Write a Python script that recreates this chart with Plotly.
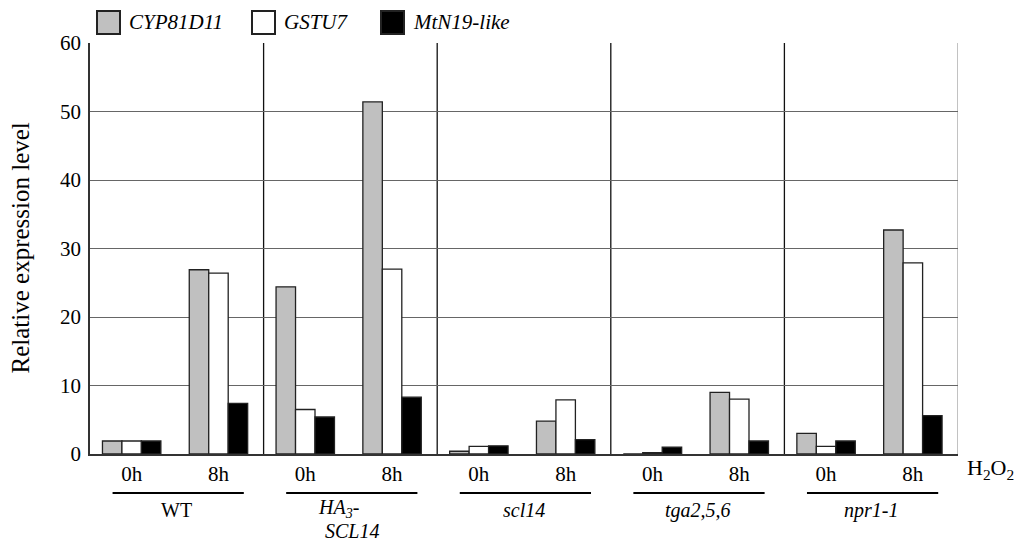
import plotly.graph_objects as go

# Genotypes (panels) and H2O2 time points within each panel
genotypes = ["WT", "HA3-SCL14", "scl14", "tga2,5,6", "npr1-1"]
timepoints = ["0h", "8h"]

# Relative expression levels, ordered WT 0h, WT 8h, HA 0h, HA 8h, ...
cyp81d11 = [1.9, 26.9, 24.4, 51.4, 0.4, 4.8, 0.0, 9.0, 3.0, 32.7]
gstu7 = [1.9, 26.4, 6.5, 27.0, 1.1, 7.9, 0.2, 8.0, 1.1, 27.9]
mtn19_like = [1.9, 7.4, 5.4, 8.3, 1.2, 2.1, 1.0, 1.9, 1.9, 5.6]

series_names = ["CYP81D11", "GSTU7", "MtN19-like"]
series_values = [cyp81d11, gstu7, mtn19_like]
series_fill = ["#c0c0c0", "#ffffff", "#000000"]

y_ticks = [0, 10, 20, 30, 40, 50, 60]

# Position of each time point inside a genotype panel (panel i spans [i, i+1])
tp_offset = [0.24, 0.74]
x_pos = [g + off for g in range(len(genotypes)) for off in tp_offset]
x_text = [tp for _ in genotypes for tp in timepoints]

FONT = "Liberation Serif"

# Plot area in pixels, used to place decorations outside the axes
L, R, T, B = 90, 958, 43, 454
W, H = 1018, 542


def px(x):
    return (x - L) / (R - L)


def py(y):
    return (B - y) / (B - T)


def label(x, y, text, xref="paper", xanchor="center", size=20, angle=0):
    return dict(x=x, y=y, xref=xref, yref="paper", text=text, showarrow=False,
                xanchor=xanchor, yanchor="middle", textangle=angle,
                font=dict(family=FONT, size=size, color="#000"))


fig = go.Figure()
for name, vals, fill in zip(series_names, series_values, series_fill):
    fig.add_trace(go.Bar(
        x=x_pos, y=vals, name=name,
        marker=dict(color=fill, line=dict(color="#222222", width=1.3)),
        showlegend=False,
    ))

shapes = []
# vertical separators between genotype panels
for i in range(1, len(genotypes)):
    shapes.append(dict(type="line", xref="x", yref="paper", x0=i, x1=i, y0=0, y1=1,
                       line=dict(color="#111111", width=1.3), layer="below"))
# right border of the plot
shapes.append(dict(type="line", xref="x", yref="paper", x0=len(genotypes), x1=len(genotypes),
                   y0=0, y1=1, line=dict(color="#999999", width=1.2), layer="below"))
# underlines grouping the two time points of a genotype
for i in range(len(genotypes)):
    shapes.append(dict(type="line", xref="x", yref="paper", x0=i + 0.13, x1=i + 0.886,
                       y0=py(493), y1=py(493), line=dict(color="#000000", width=2)))

annotations = []
# genotype labels
for i, g in enumerate(genotypes):
    if g == "WT":
        annotations.append(label(i + 0.5, py(510), "WT", xref="x"))
    elif g == "HA3-SCL14":
        annotations.append(label(px(338), py(508), "<i>HA<sub>3</sub>-</i>"))
        annotations.append(label(px(352), py(531), "<i>SCL14</i>"))
    else:
        annotations.append(label(i + 0.5, py(510), f"<i>{g}</i>", xref="x"))

annotations.append(label(px(965), py(469), "H<sub>2</sub>O<sub>2</sub>", xanchor="left", size=22))
annotations.append(label(px(20), 0.5, "Relative expression level", size=25, angle=-90))

# legend: swatches and italic gene names
legend_items = [(97, 127), (252, 282), (381, 411)]
for (sx, tx), name, fill in zip(legend_items, series_names, series_fill):
    shapes.append(dict(type="rect", xref="paper", yref="paper",
                       x0=px(sx), x1=px(sx + 23), y0=py(34), y1=py(11),
                       fillcolor=fill, line=dict(color="#222222", width=2)))
    annotations.append(label(px(tx), py(22), f"<i>{name}</i>", xanchor="left", size=21))

fig.update_layout(
    width=W, height=H,
    margin=dict(l=L, r=W - R, t=T, b=H - B),
    paper_bgcolor="white", plot_bgcolor="white",
    barmode="group", bargap=0.327, bargroupgap=0,
    font=dict(family=FONT, size=20, color="#000"),
    shapes=shapes, annotations=annotations,
    xaxis=dict(range=[0, len(genotypes)], tickmode="array", tickvals=x_pos, ticktext=x_text,
               showgrid=False, zeroline=False, showline=True, linecolor="#333333", linewidth=1.5,
               ticks="", tickfont=dict(family=FONT, size=21, color="#000")),
    yaxis=dict(range=[0, 60], tickmode="array", tickvals=y_ticks,
               showgrid=True, gridcolor="#666666", gridwidth=1,
               zeroline=False, showline=True, linecolor="#333333", linewidth=1.5,
               ticks="", ticklabelstandoff=3, tickfont=dict(family=FONT, size=21, color="#000")),
)

fig.write_html("out.html")
